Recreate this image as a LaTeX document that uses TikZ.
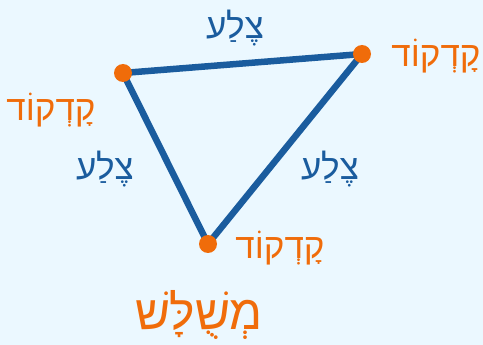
\documentclass[tikz,border=0pt]{standalone}
\usepackage{fontspec}
\newfontfamily\hebfont[Script=Hebrew]{Liberation Sans}
\TeXXeTstate=1
\definecolor{bgblue}{HTML}{EBF8FF}
\definecolor{edgeblue}{HTML}{1A5C9E}
\definecolor{vorange}{HTML}{F06C0A}
\tikzset{
  edgeline/.style={draw=edgeblue, line width=6.5pt, line cap=round, line join=round},
  vdot/.style={circle, fill=vorange, minimum size=18pt, inner sep=0pt},
  vlabel/.style={text=vorange, font=\hebfont\fontsize{35}{40}\selectfont, inner sep=0pt},
  slabel/.style={text=edgeblue, font=\hebfont\fontsize{35}{40}\selectfont, inner sep=0pt},
  titlelabel/.style={text=vorange, font=\hebfont\fontsize{48}{54}\selectfont, inner sep=0pt}
}
\begin{document}
\begin{tikzpicture}[x=1pt,y=-1pt]
\fill[bgblue] (0,0) rectangle (483,345);
\useasboundingbox (0,0) rectangle (483,345);
\coordinate (pA) at (123,73);
\coordinate (pB) at (362,54);
\coordinate (pC) at (208,244);
\draw[edgeline] (pA) -- (pB) -- (pC) -- cycle;
\node[vdot] (vA) at (pA) {};
\node[vdot] (vB) at (pB) {};
\node[vdot] (vC) at (pC) {};
\node[slabel] (sTop) at (235,28) {\beginR צֶלַע\endR};
\node[slabel] (sLeft) at (105,169) {\beginR צֶלַע\endR};
\node[slabel] (sRight) at (330,169) {\beginR צֶלַע\endR};
\node[vlabel] (lB) at (436,56) {\beginR קָדְקוֹד\endR};
\node[vlabel] (lA) at (51,110) {\beginR קָדְקוֹד\endR};
\node[vlabel] (lC) at (280,248) {\beginR קָדְקוֹד\endR};
\node[titlelabel] (title) at (199,315) {\beginR מְשֻׁלָּשׁ\endR};
\end{tikzpicture}
\end{document}
